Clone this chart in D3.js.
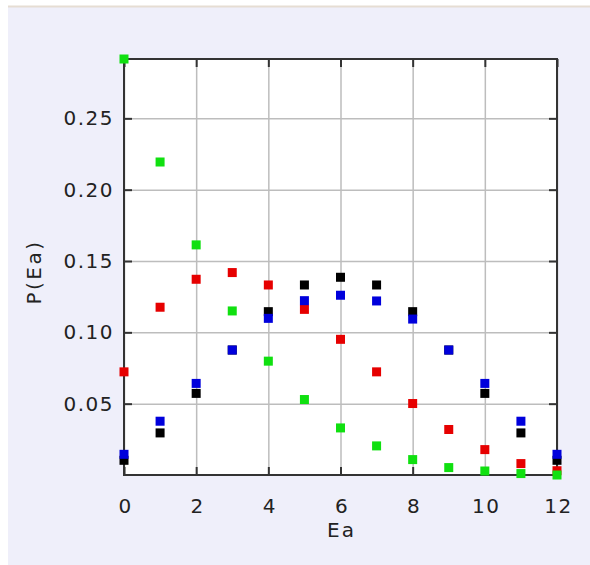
<!DOCTYPE html>
<html>
<head>
<meta charset="utf-8">
<script src="https://cdn.jsdelivr.net/npm/d3@7"></script>
<style>
  body { margin: 0; background: #fff; }
  svg { display: block; font-family: "DejaVu Sans", sans-serif; }
</style>
</head>
<body>
<div id="chart"></div>
<script>
// values, one entry per Ea = 0..12
const ea = [0, 1, 2, 3, 4, 5, 6, 7, 8, 9, 10, 11, 12];
const blackSeries = [0.0103, 0.0295, 0.0572, 0.0876, 0.1145, 0.1332, 0.1386, 0.1332, 0.1145, 0.0876, 0.0572, 0.0295, 0.0103];
const redSeries   = [0.0723, 0.1176, 0.1372, 0.1419, 0.1332, 0.1161, 0.0951, 0.0723, 0.0501, 0.0319, 0.0178, 0.0080, 0.0030];
const blueSeries  = [0.0145, 0.0377, 0.0642, 0.0876, 0.1098, 0.1222, 0.1260, 0.1220, 0.1093, 0.0876, 0.0642, 0.0377, 0.0145];
const greenSeries = [0.2916, 0.2194, 0.1613, 0.1150, 0.0798, 0.0529, 0.0330, 0.0204, 0.0108, 0.0052, 0.0028, 0.0010, 0.0000];
const xTicks = [0, 2, 4, 6, 8, 10, 12];
const yTicks = [0.05, 0.10, 0.15, 0.20, 0.25];
const yMax = 0.2916;

const W = 590, H = 565;
const margin = {top: 59, right: 33, bottom: 90, left: 124};
const pw = W - margin.left - margin.right;
const ph = H - margin.top - margin.bottom;

const svg = d3.select('#chart').append('svg')
  .attr('width', W)
  .attr('height', H);

// panel background
svg.append('rect')
  .attr('x', 8).attr('y', 6)
  .attr('width', W - 8).attr('height', H - 6)
  .attr('fill', '#efeffa');
svg.append('line')
  .attr('x1', 8).attr('x2', W).attr('y1', 6.5).attr('y2', 6.5)
  .attr('stroke', '#e6ddd3').attr('stroke-width', 2);

const g = svg.append('g')
  .attr('transform', 'translate(' + margin.left + ',' + margin.top + ')');

const xScale = d3.scaleLinear().domain([0, 12]).range([0, pw]);
const yScale = d3.scaleLinear().domain([0, yMax]).range([ph, 0]);

g.append('rect')
  .attr('width', pw).attr('height', ph)
  .attr('fill', '#fff');

// gridlines
g.append('g')
  .call(d3.axisBottom(xScale).tickValues(xTicks).tickSize(ph).tickFormat(''))
  .call(a => a.select('.domain').remove())
  .selectAll('line').attr('stroke', '#bdbdbd').attr('stroke-width', 1.5);
g.append('g')
  .call(d3.axisRight(yScale).tickValues(yTicks).tickSize(pw).tickFormat(''))
  .call(a => a.select('.domain').remove())
  .selectAll('line').attr('stroke', '#bdbdbd').attr('stroke-width', 1.5);

// inward ticks on all four sides
const tickLen = 8;
const tickStyle = (sel) => {
  sel.select('.domain').remove();
  sel.selectAll('line').attr('stroke', '#333').attr('stroke-width', 2);
};
g.append('g')
  .attr('transform', 'translate(0,' + ph + ')')
  .call(d3.axisTop(xScale).tickValues(xTicks).tickSize(tickLen).tickFormat(''))
  .call(tickStyle);
g.append('g')
  .call(d3.axisBottom(xScale).tickValues(xTicks).tickSize(tickLen).tickFormat(''))
  .call(tickStyle);
g.append('g')
  .call(d3.axisRight(yScale).tickValues(yTicks).tickSize(tickLen).tickFormat(''))
  .call(tickStyle);
g.append('g')
  .attr('transform', 'translate(' + pw + ',0)')
  .call(d3.axisLeft(yScale).tickValues(yTicks).tickSize(tickLen).tickFormat(''))
  .call(tickStyle);

// tick labels
const labelFont = (sel) => sel
  .attr('font-size', 20)
  .attr('letter-spacing', 1.5)
  .attr('fill', '#222')
  .attr('font-family', 'DejaVu Sans');

const xAxis = g.append('g')
  .attr('transform', 'translate(0,' + ph + ')')
  .call(d3.axisBottom(xScale).tickValues(xTicks).tickSize(0).tickPadding(24).tickFormat(d3.format('d')));
xAxis.select('.domain').remove();
xAxis.selectAll('text').call(labelFont).attr('dx', 1);

const yAxis = g.append('g')
  .call(d3.axisLeft(yScale).tickValues(yTicks).tickSize(0).tickPadding(10).tickFormat(d3.format('.2f')));
yAxis.select('.domain').remove();
yAxis.selectAll('text').call(labelFont);

// frame
g.append('rect')
  .attr('width', pw).attr('height', ph)
  .attr('fill', 'none')
  .attr('stroke', '#333')
  .attr('stroke-width', 2);

// axis titles
svg.append('text')
  .attr('x', margin.left + pw / 2 + 1)
  .attr('y', 537)
  .attr('text-anchor', 'middle')
  .attr('font-size', 20)
  .attr('letter-spacing', 2)
  .attr('fill', '#222')
  .text('Ea');

svg.append('text')
  .attr('transform', 'translate(41,272) rotate(-90)')
  .attr('text-anchor', 'middle')
  .attr('font-size', 20)
  .attr('letter-spacing', 2.5)
  .attr('fill', '#222')
  .text('P(Ea)');

// markers: black first, then red, blue, green on top
const series = [
  {values: blackSeries, color: '#000000'},
  {values: redSeries, color: '#e60000'},
  {values: blueSeries, color: '#0000dc'},
  {values: greenSeries, color: '#10e010'}
];
const size = 9;
series.forEach((s) => {
  g.selectAll(null)
    .data(ea)
    .enter()
    .append('rect')
    .attr('x', (d) => xScale(d) - size / 2)
    .attr('y', (d, i) => yScale(s.values[i]) - size / 2)
    .attr('width', size)
    .attr('height', size)
    .attr('fill', s.color);
});
</script>
</body>
</html>
